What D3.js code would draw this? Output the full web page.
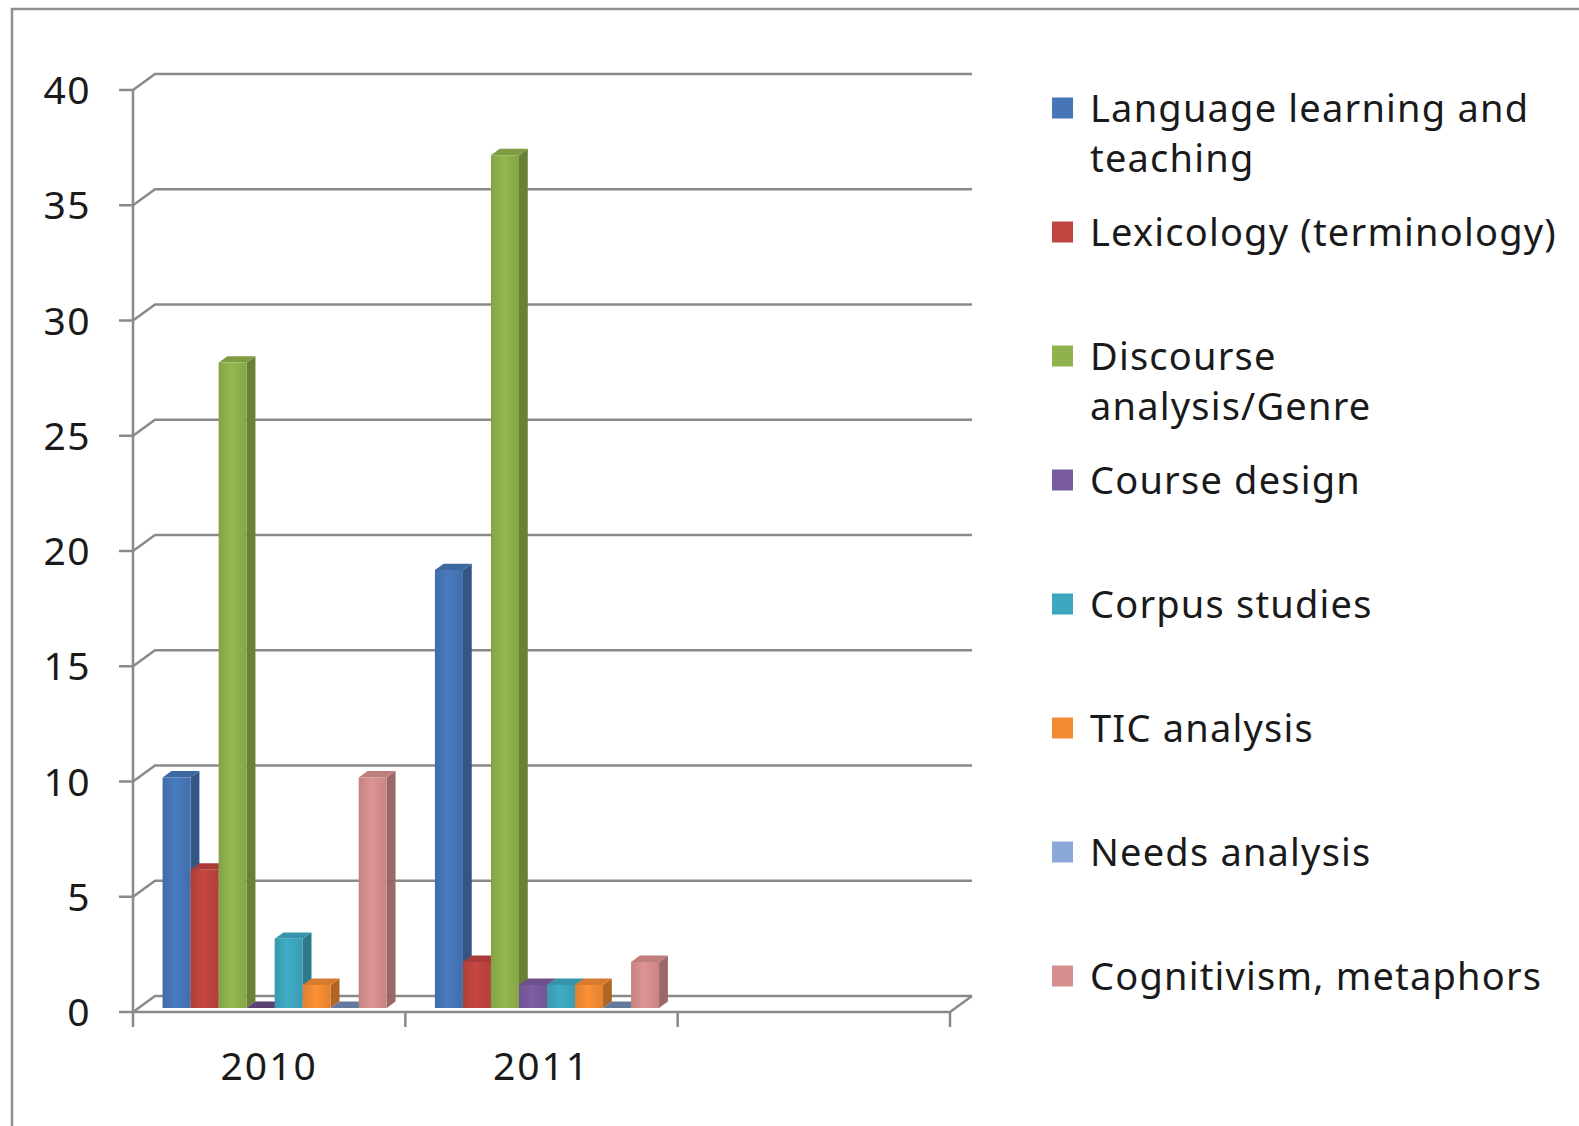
<!DOCTYPE html>
<html>
<head>
<meta charset="utf-8">
<script src="https://cdnjs.cloudflare.com/ajax/libs/d3/7.8.5/d3.min.js"></script>
<style>
  body { margin: 0; background: #fff; }
  svg { display: block; }
  text { font-family: "Noto Sans", sans-serif; fill: #1a1a1a; }
</style>
</head>
<body>
<svg></svg>
<script>
let width = 1579, height = 1126;

// Data
const years = ["2010", "2011", ""];
const topics = [
    "Language learning and\nteaching",
    "Lexicology (terminology)",
    "Discourse\nanalysis/Genre",
    "Course design",
    "Corpus studies",
    "TIC analysis",
    "Needs analysis",
    "Cognitivism, metaphors"
];
const counts2010 = [10, 6, 28, 0, 3, 1, 0, 10];
const counts2011 = [19, 2, 37, 1, 1, 1, 0, 2];
const yTicks = [0, 5, 10, 15, 20, 25, 30, 35, 40];
const colors = ["#4676b8", "#c0443f", "#8fb24c", "#7a5a9e", "#3ea6bf", "#f38b33", "#8aa8d8", "#d68f8e"];

let svg = d3.select("svg")
    .attr("width", width)
    .attr("height", height);

svg.append("rect").attr("width", width).attr("height", height).attr("fill", "#fff");

// outer chart border (only top and left are inside the picture)
svg.append("path")
    .attr("d", "M12," + height + "V9H" + width)
    .attr("fill", "none")
    .attr("stroke", "#8f8f8f")
    .attr("stroke-width", 2.5);

// depth offset of the back wall
const DX = 22, DY = -16;
const P = (x, y, z) => [x + z * DX, y + z * DY];

let y = d3.scaleLinear().domain([0, 40]).range([1012, 90]);
let x = d3.scaleBand().domain(years).range([133, 950]);
let xs = d3.scaleBand().domain(topics).range([0, x.bandwidth()]).paddingOuter(0.86);

const gridColor = "#8a8a8a";
const x0 = x.range()[0], x1 = x.range()[1];

// Gridlines on back wall
svg.append("g").selectAll("path")
    .data(yTicks)
    .join("path")
    .attr("d", d => {
        let a = P(x0, y(d), 0), b = P(x0, y(d), 1), c = P(x1, y(d), 1);
        return "M" + a + "L" + b + "L" + c;
    })
    .attr("fill", "none")
    .attr("stroke", gridColor)
    .attr("stroke-width", 2.5);

// Gradients for bar front faces
let defs = svg.append("defs");
colors.forEach((c, i) => {
    let g = defs.append("linearGradient").attr("id", "grad" + i)
        .attr("x1", 0).attr("x2", 1).attr("y1", 0).attr("y2", 0);
    g.append("stop").attr("offset", 0).attr("stop-color", d3.color(c).darker(0.25));
    g.append("stop").attr("offset", 0.45).attr("stop-color", d3.color(c).brighter(0.1));
    g.append("stop").attr("offset", 1).attr("stop-color", d3.color(c).darker(0.2));
});

// Bars
let bars = [];
[counts2010, counts2011].forEach((vals, yi) => {
    vals.forEach((v, i) => bars.push({ year: years[yi], topic: topics[i], value: v, i: i }));
});

const z0 = 0.25, z1 = 0.65;
const poly = pts => "M" + pts.join("L") + "Z";

let bar = svg.append("g").selectAll("g")
    .data(bars)
    .join("g");

bar.each(function (d) {
    let g = d3.select(this);
    let bx = x(d.year) + xs(d.topic), w = xs.bandwidth();
    let yt = y(d.value), yb = y(0);
    let c = colors[d.i];
    if (d.value === 0) {
        g.append("path")
            .attr("d", poly([P(bx, yb, z0), P(bx + w, yb, z0), P(bx + w, yb, z1), P(bx, yb, z1)]))
            .attr("fill", d3.color(c).darker(0.9));
        return;
    }
    g.append("path")
        .attr("d", poly([P(bx + w, yt, z0), P(bx + w, yt, z1), P(bx + w, yb, z1), P(bx + w, yb, z0)]))
        .attr("fill", d3.color(c).darker(0.9));
    g.append("path")
        .attr("d", poly([P(bx, yt, z0), P(bx + w, yt, z0), P(bx + w, yt, z1), P(bx, yt, z1)]))
        .attr("fill", d3.color(c).darker(0.35));
    g.append("path")
        .attr("d", poly([P(bx, yt, z0), P(bx + w, yt, z0), P(bx + w, yb, z0), P(bx, yb, z0)]))
        .attr("fill", "url(#grad" + d.i + ")");
});

// Axes
let axes = svg.append("g")
    .attr("fill", "none")
    .attr("stroke", gridColor)
    .attr("stroke-width", 2.5);

// front floor line and right edge
axes.append("path")
    .attr("d", "M" + P(x0, y(0), 0) + "L" + P(x1, y(0), 0) + "L" + P(x1, y(0), 1));
// vertical axis
axes.append("path")
    .attr("d", "M" + x0 + "," + y(40) + "V" + y(0));
// y ticks
axes.selectAll(".ytick")
    .data(yTicks)
    .join("path")
    .attr("d", d => "M" + (x0 - 14) + "," + y(d) + "H" + x0);
// x ticks
let xTickPos = years.map(d => x(d)).concat([x1]);
axes.selectAll(".xtick")
    .data(xTickPos)
    .join("path")
    .attr("d", d => "M" + d + "," + y(0) + "V" + (y(0) + 15));

// y labels
svg.append("g").selectAll("text")
    .data(yTicks)
    .join("text")
    .attr("x", 91)
    .attr("y", d => y(d))
    .attr("dy", "0.36em")
    .attr("text-anchor", "end")
    .style("font-size", "39px")
    .style("letter-spacing", "1.5px")
    .text(d => d);

// x labels
svg.append("g").selectAll("text")
    .data(years)
    .join("text")
    .attr("x", d => x(d) + x.bandwidth() / 2)
    .attr("y", 1066)
    .attr("dy", "0.36em")
    .attr("text-anchor", "middle")
    .style("font-size", "39px")
    .style("letter-spacing", "2px")
    .text(d => d);

// Legend
let legend = svg.append("g").attr("id", "legend");
let item = legend.selectAll("g")
    .data(topics)
    .join("g")
    .attr("transform", (d, i) => "translate(1052," + (108 + i * 124) + ")");

item.append("rect")
    .attr("x", 0)
    .attr("y", -10.5)
    .attr("width", 21)
    .attr("height", 21)
    .attr("fill", (d, i) => colors[i]);

item.append("text")
    .attr("x", 38)
    .attr("y", 0)
    .style("font-size", "38px")
    .style("letter-spacing", "1.2px")
    .selectAll("tspan")
    .data(d => d.split("\n"))
    .join("tspan")
    .attr("x", 38)
    .attr("y", (d, i) => i * 50)
    .attr("dy", "0.36em")
    .text(d => d);
</script>
</body>
</html>
